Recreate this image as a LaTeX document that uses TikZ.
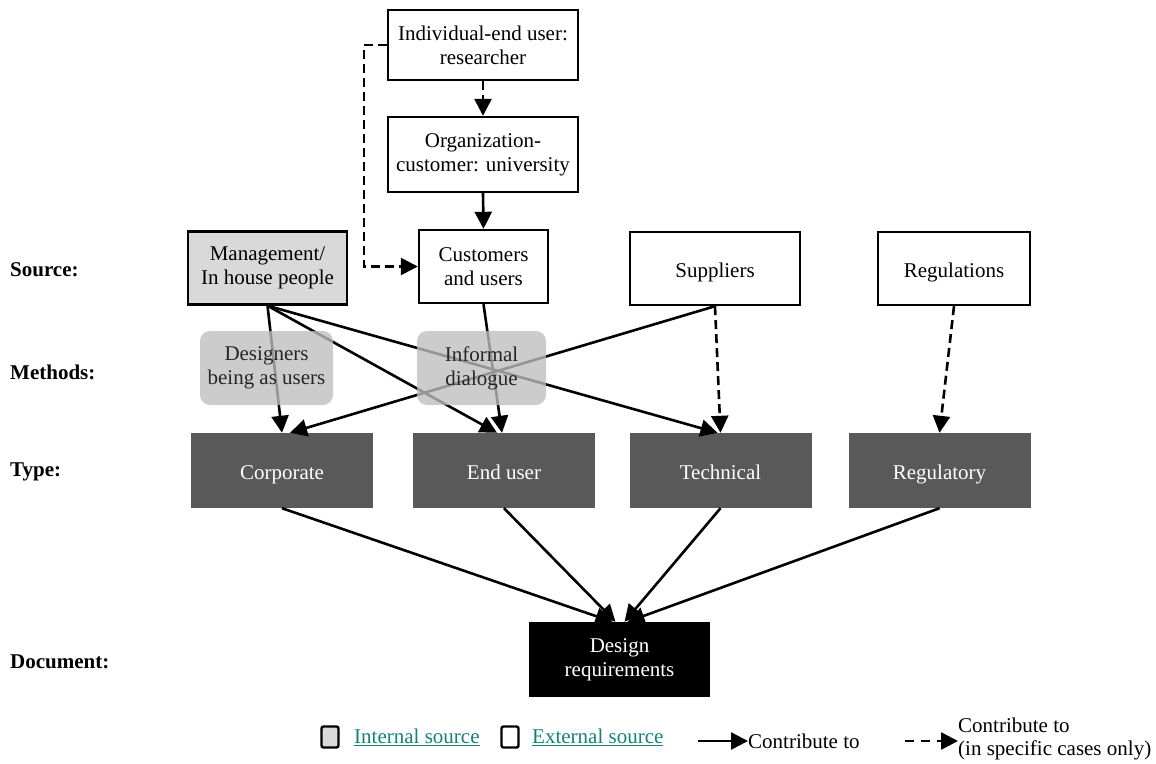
\documentclass[tikz,border=0pt]{standalone}
\usepackage{fontspec}
\setmainfont{Liberation Serif}
\usetikzlibrary{arrows.meta}
\definecolor{srcgray}{RGB}{217,217,217}
\definecolor{methgray}{RGB}{190,190,190}
\definecolor{typegray}{RGB}{89,89,89}
\definecolor{linkteal}{RGB}{20,130,120}
\tikzset{
  txt/.style={font=\fontsize{21}{24}\selectfont, align=center, inner sep=0pt},
  oneline/.style={text height=19pt, text depth=2pt},
  srcbox/.style={txt, draw=black, line width=2.4pt, minimum height=73pt},
  methbox/.style={txt, fill=methgray, fill opacity=0.79, text opacity=1, text=black!85,
                  rounded corners=10pt, minimum width=133pt, minimum height=74pt},
  typebox/.style={txt, oneline, fill=typegray, text=white, minimum width=182pt, minimum height=75pt},
  docbox/.style={txt, fill=black, text=white, minimum width=181pt, minimum height=75pt},
  rowlabel/.style={font=\fontsize{21}{24}\selectfont\bfseries, anchor=west, inner sep=0pt},
  tip/.style={-{Triangle[length=17pt,width=17pt]}},
  link/.style={tip, line width=2.6pt},
  maybe/.style={tip, line width=2.6pt, dash pattern=on 9pt off 5pt},
  legtxt/.style={font=\fontsize{21}{23}\selectfont, anchor=west, inner sep=0pt, align=left}
}
\begin{document}
\begin{tikzpicture}[x=1pt,y=-1pt]
\useasboundingbox (0,0) rectangle (1156,763);

% row labels
\node[rowlabel] (lsrc) at (10,270) {Source:};
\node[rowlabel] (lmeth) at (10,372) {Methods:};
\node[rowlabel] (ltype) at (10,472) {Type:};
\node[rowlabel] (ldoc) at (10,662) {Document:};

% chain of customers
\node[srcbox, minimum width=190pt, minimum height=70pt] (indiv) at (483,45) {Individual-end user:\\researcher};
\node[srcbox, minimum width=190pt, minimum height=75pt] (org) at (483,154.5) {Organization-\\customer: university};

% sources
\node[srcbox, fill=srcgray, minimum width=159pt] (mgmt) at (267.5,268) {Management/\\In house people};
\node[srcbox, minimum width=129pt] (cust) at (483.5,266.5) {Customers\\and users};
\node[srcbox, oneline, minimum width=170pt] (supp) at (715,268.5) {Suppliers};
\node[srcbox, oneline, minimum width=152pt] (regs) at (954,268.5) {Regulations};

% types
\node[typebox] (corp) at (282,470.5) {Corporate};
\node[typebox] (endu) at (504,470.5) {End user};
\node[typebox] (tech) at (720.5,470.5) {Technical};
\node[typebox] (regu) at (939.5,470.5) {Regulatory};

% document
\node[docbox] (doc) at (619.5,659.5) {Design\\requirements};

% customer chain connectors
\draw[maybe] (indiv.south) -- (org.north);
\draw[link] (org.south) -- (cust.north);
\draw[maybe] (indiv.west) -- ++(-23,0) |- (cust.west);

% sources to types
\draw[link] (mgmt.south) -- (corp.north);
\draw[link] (mgmt.south) -- ([xshift=-7pt]endu.north);
\draw[link] (mgmt.south) -- ([xshift=-3pt]tech.north);
\draw[link] (cust.south) -- ([xshift=-2pt]endu.north);
\draw[link] (supp.south) -- ([xshift=8pt]corp.north);
\draw[maybe] (supp.south) -- (tech.north);
\draw[maybe] (regs.south) -- (regu.north);

% types to document
\draw[link] (corp.south) -- ([xshift=-7pt]doc.north);
\draw[link] (endu.south) -- ([xshift=-4pt]doc.north);
\draw[link] (tech.south) -- ([xshift=5pt]doc.north);
\draw[link] (regu.south) -- ([xshift=8pt]doc.north);

% methods, laid over the connectors
\node[methbox] (desg) at (266.5,368) {Designers\\being as users};
\node[methbox, minimum width=129pt] (infd) at (481.5,368) {Informal\\dialogue};

% legend
\node[draw=black, line width=2.4pt, fill=srcgray, rounded corners=2pt, minimum width=17pt, minimum height=21pt, inner sep=0pt] (kint) at (330,737) {};
\node[legtxt, text=linkteal] (tint) at (354,737) {\underline{Internal source}};
\node[draw=black, line width=2.4pt, rounded corners=2pt, minimum width=17pt, minimum height=21pt, inner sep=0pt] (kext) at (510,737) {};
\node[legtxt, text=linkteal] (text) at (532,737) {\underline{External source}};
\coordinate (sa) at (698,741);
\node[legtxt] (tsolid) at (748,741) {Contribute to};
\draw[link] (sa) -- (tsolid.west);
\coordinate (da) at (905,741);
\node[legtxt] (tdash) at (958,739) {Contribute to\\(in specific cases only)};
\draw[maybe, dash pattern=on 9pt off 7pt] (da) -- (tdash.west |- da);
\end{tikzpicture}
\end{document}
